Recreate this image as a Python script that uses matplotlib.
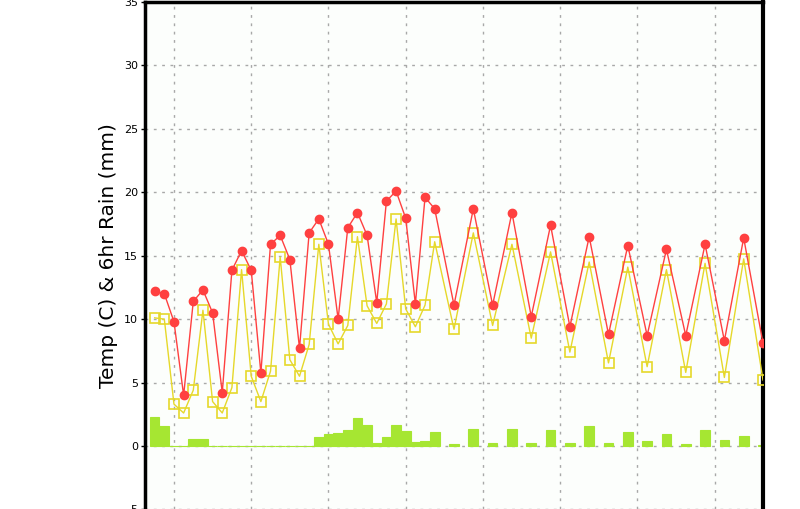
import matplotlib
matplotlib.use('Agg')
import matplotlib.pyplot as plt

# time steps (6 h units from chart start)
steps = [1, 2, 3, 4, 5, 6, 7, 8, 9, 10, 11, 12, 13, 14, 15, 16, 17, 18, 19, 20,
         21, 22, 23, 24, 25, 26, 27, 28, 29, 30, 32, 34, 36, 38, 40, 42, 44, 46,
         48, 50, 52, 54, 56, 58, 60, 62, 64]

temp = [12.2, 12.0, 9.8, 4.0, 11.4, 12.3, 10.5, 4.2, 13.85, 15.4, 13.85, 5.75,
        15.9, 16.6, 14.7, 7.7, 16.8, 17.9, 15.9, 10.0, 17.2, 18.4, 16.6, 11.3,
        19.3, 20.1, 17.95, 11.2, 19.6, 18.7, 11.1, 18.7, 11.1, 18.4, 10.2, 17.4,
        9.4, 16.5, 8.8, 15.8, 8.7, 15.5, 8.7, 15.9, 8.3, 16.4, 8.1]

dewp = [10.1, 10.0, 3.3, 2.6, 4.4, 10.7, 3.5, 2.6, 4.6, 13.9, 5.5, 3.5,
        5.9, 14.9, 6.8, 5.5, 8.0, 15.9, 9.6, 8.05, 9.5, 16.5, 11.05, 9.66,
        11.2, 17.9, 10.8, 9.4, 11.1, 16.1, 9.2, 16.8, 9.5, 15.9, 8.5, 15.3,
        7.4, 14.5, 6.55, 14.1, 6.25, 13.9, 5.8, 14.4, 5.4, 14.75, 5.2]

rain = [2.28, 1.57, 0, 0, 0.55, 0.55, 0, 0, 0, 0, 0, 0, 0, 0, 0, 0, 0, 0.73,
        0.95, 1.02, 1.26, 2.2, 1.65, 0.26, 0.73, 1.65, 1.18, 0.31, 0.39, 1.1,
        0.16, 1.34, 0.24, 1.34, 0.24, 1.26, 0.24, 1.57, 0.24, 1.1, 0.39, 0.94,
        0.16, 1.26, 0.47, 0.79, 0.08]

yticks = [-5, 0, 5, 10, 15, 20, 25, 30, 35]
xgrid = [3, 11, 19, 27, 35, 43, 51, 59]

bg = '#fcfefc'
fig = plt.figure(figsize=(8, 5.09), dpi=100, facecolor='white')
ax = fig.add_axes([145 / 800, -0.4 / 509, 618 / 800, 507.4 / 509])
ax.set_facecolor(bg)

ax.bar(steps, rain, width=1.0, color='#a6e632', edgecolor='#a6e632',
       linewidth=0.8, zorder=2)
ax.plot(steps, dewp, color='#e6d82a', lw=1, marker='s', ms=7,
        mfc='none', mec='#e6d82a', mew=1.2, zorder=3)
ax.plot(steps, temp, color='#ff4040', lw=1, marker='o', ms=6,
        mfc='#ff4040', mec='#ff4040', zorder=4)

ax.set_xlim(0, 64)
ax.set_ylim(-5, 35)
ax.set_yticks(yticks)
ax.set_yticklabels([str(t) for t in yticks], fontsize=8)
ax.set_xticks(xgrid)
ax.tick_params(axis='x', length=0, labelbottom=False)
ax.tick_params(axis='y', length=3, width=1, pad=2)
ax.grid(True, color='#a8a8a8', linestyle=(0, (2, 4)), linewidth=1, zorder=0)
ax.set_axisbelow(True)

for s in ['left', 'right', 'top']:
    ax.spines[s].set_linewidth(2.5)
    ax.spines[s].set_color('black')
ax.spines['right'].set_linewidth(3)
ax.spines['bottom'].set_visible(False)

ax.set_ylabel('Temp (C) & 6hr Rain (mm)', fontsize=14.5, labelpad=4)

fig.savefig('out.png', dpi=100, facecolor='white')
